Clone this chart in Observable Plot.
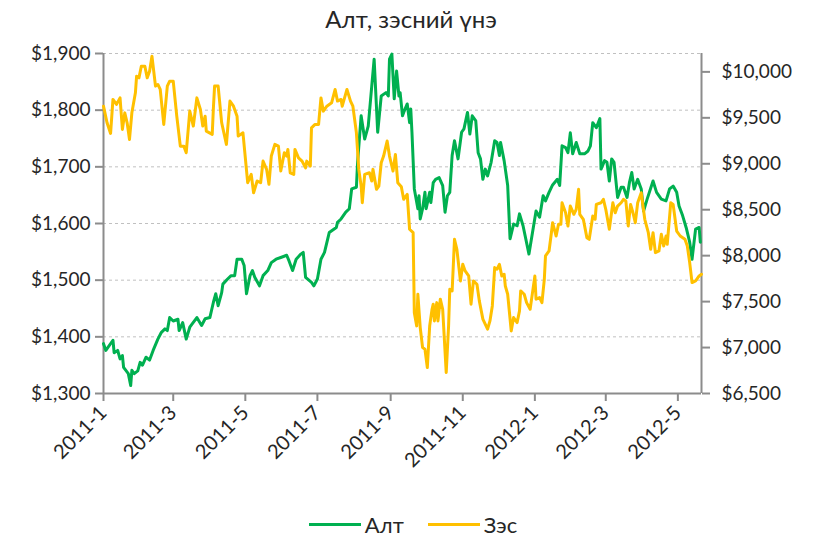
<!DOCTYPE html>
<html>
<head>
<meta charset="utf-8">
<script src="https://cdn.jsdelivr.net/npm/d3@7"></script>
<script src="https://cdn.jsdelivr.net/npm/@observablehq/plot@0.6"></script>
<style>
  body { margin: 0; background: #fff; font-family: Lato, sans-serif; color: #262626; }
  #wrap { position: relative; width: 818px; height: 539px; overflow: hidden; }
  #title { position: absolute; top: 4px; left: 0; width: 818px; text-align: center; font-size: 24px; padding-left: 4px; box-sizing: border-box; }
  #chart { position: absolute; top: 38px; left: 0; }
  #legend { position: absolute; top: 511px; left: 0; width: 818px; display: flex; justify-content: center; align-items: center; font-size: 22px; padding-left: 8px; box-sizing: border-box; }
  .item { display: flex; align-items: center; margin: 0 12px; }
  .sw { width: 52px; height: 3px; margin-right: 4px; }
</style>
</head>
<body>
<div id="wrap">
  <div id="title">Алт, зэсний үнэ</div>
  <div id="chart"></div>
  <div id="legend"></div>
</div>
<script>
// ---- Data ----
const seriesNames = ["Алт", "Зэс"];
const seriesColors = ["#00B050", "#FFC000"];

const goldDates = [
"2011-01-01","2011-01-03","2011-01-09","2011-01-10","2011-01-13","2011-01-15","2011-01-17","2011-01-18","2011-01-22","2011-01-24",
"2011-01-25","2011-01-27","2011-01-30","2011-02-01","2011-02-03","2011-02-06","2011-02-09","2011-02-12","2011-02-16","2011-02-19",
"2011-02-22","2011-02-24","2011-02-26","2011-03-01","2011-03-05","2011-03-06","2011-03-09","2011-03-12","2011-03-15","2011-03-21",
"2011-03-25","2011-03-28","2011-04-01","2011-04-04","2011-04-06","2011-04-08","2011-04-11","2011-04-12","2011-04-16","2011-04-19",
"2011-04-22","2011-04-24","2011-04-28","2011-04-30","2011-05-02","2011-05-05","2011-05-07","2011-05-09","2011-05-13","2011-05-16",
"2011-05-20","2011-05-23","2011-05-27","2011-05-31","2011-06-05","2011-06-07","2011-06-10","2011-06-13","2011-06-17","2011-06-19",
"2011-06-21","2011-06-26","2011-06-28","2011-07-01","2011-07-04","2011-07-07","2011-07-11","2011-07-17","2011-07-18","2011-07-21",
"2011-07-25","2011-07-28","2011-07-30","2011-08-03","2011-08-04","2011-08-07","2011-08-10","2011-08-13","2011-08-16","2011-08-18",
"2011-08-21","2011-08-24","2011-08-28","2011-08-30","2011-08-31","2011-09-02","2011-09-04","2011-09-06","2011-09-08","2011-09-09",
"2011-09-11","2011-09-12","2011-09-15","2011-09-17","2011-09-18","2011-09-19","2011-09-21","2011-09-24","2011-09-25","2011-09-26",
"2011-09-28","2011-09-30","2011-10-01","2011-10-04","2011-10-05","2011-10-07","2011-10-09","2011-10-12","2011-10-15","2011-10-17",
"2011-10-19","2011-10-21","2011-10-23","2011-10-25","2011-10-28","2011-10-31","2011-11-02","2011-11-05","2011-11-07","2011-11-09",
"2011-11-12","2011-11-14","2011-11-16","2011-11-18","2011-11-20","2011-11-22","2011-11-25","2011-11-28","2011-11-30","2011-12-02",
"2011-12-03","2011-12-06","2011-12-09","2011-12-11","2011-12-14","2011-12-17","2011-12-19","2011-12-22","2011-12-27","2011-12-30",
"2012-01-02","2012-01-05","2012-01-08","2012-01-10","2012-01-13","2012-01-16","2012-01-20","2012-01-22","2012-01-24","2012-01-27",
"2012-01-29","2012-01-31","2012-02-02","2012-02-05","2012-02-08","2012-02-12","2012-02-15","2012-02-17","2012-02-19","2012-02-22",
"2012-02-25","2012-02-26","2012-02-29","2012-03-02","2012-03-04","2012-03-06","2012-03-08","2012-03-11","2012-03-14","2012-03-16",
"2012-03-19","2012-03-21","2012-03-23","2012-03-25","2012-03-28","2012-03-31","2012-04-02","2012-04-05","2012-04-10","2012-04-13",
"2012-04-17","2012-04-21","2012-04-24","2012-04-27","2012-04-30","2012-05-02","2012-05-05","2012-05-08","2012-05-11","2012-05-13",
"2012-05-16","2012-05-19","2012-05-20"];
const goldValues = [
1388,1376,1394,1372,1376,1361,1367,1346,1335,1314,
1341,1335,1340,1355,1350,1364,1359,1376,1396,1408,
1414,1411,1434,1428,1431,1411,1425,1396,1417,1434,
1420,1432,1434,1461,1476,1455,1478,1493,1502,1508,
1508,1537,1537,1526,1476,1508,1517,1505,1490,1508,
1517,1531,1537,1540,1544,1534,1517,1537,1546,1549,
1505,1496,1490,1502,1537,1549,1584,1593,1602,1608,
1620,1626,1661,1664,1708,1790,1749,1772,1843,1890,
1761,1825,1831,1825,1890,1899,1820,1869,1825,1831,
1790,1796,1811,1778,1802,1761,1661,1626,1649,1608,
1626,1655,1626,1655,1637,1672,1678,1681,1667,1620,
1649,1655,1720,1746,1714,1761,1767,1796,1758,1790,
1781,1725,1714,1678,1696,1684,1708,1746,1743,1720,
1743,1711,1667,1573,1599,1596,1617,1596,1546,1584,
1622,1611,1649,1640,1655,1668,1678,1667,1737,1734,
1725,1760,1723,1743,1723,1723,1728,1737,1778,1769,
1785,1696,1711,1708,1675,1714,1708,1646,1664,1664,
1646,1672,1690,1661,1678,1661,1622,1643,1675,1655,
1643,1640,1661,1666,1655,1631,1614,1593,1567,1537,
1590,1593,1567];

const copperDates = [
"2011-01-01","2011-01-04","2011-01-07","2011-01-09","2011-01-12","2011-01-15","2011-01-17","2011-01-19","2011-01-21","2011-01-23",
"2011-01-25","2011-01-28","2011-01-29","2011-01-31","2011-02-02","2011-02-05","2011-02-07","2011-02-09","2011-02-11","2011-02-14",
"2011-02-16","2011-02-18","2011-02-21","2011-02-24","2011-02-26","2011-03-01","2011-03-04","2011-03-07","2011-03-10","2011-03-12",
"2011-03-15","2011-03-18","2011-03-21","2011-03-24","2011-03-26","2011-03-28","2011-03-29","2011-04-03","2011-04-04","2011-04-05",
"2011-04-08","2011-04-11","2011-04-15","2011-04-18","2011-04-21","2011-04-24","2011-04-25","2011-04-29","2011-05-03","2011-05-06",
"2011-05-08","2011-05-11","2011-05-14","2011-05-16","2011-05-19","2011-05-21","2011-05-23","2011-05-26","2011-05-29","2011-05-31",
"2011-06-03","2011-06-05","2011-06-06","2011-06-08","2011-06-11","2011-06-12","2011-06-15","2011-06-18","2011-06-21","2011-06-22",
"2011-06-25","2011-06-26","2011-06-29","2011-07-02","2011-07-04","2011-07-06","2011-07-09","2011-07-13","2011-07-16","2011-07-18",
"2011-07-21","2011-07-22","2011-07-26","2011-07-29","2011-07-31","2011-08-03","2011-08-05","2011-08-07","2011-08-08","2011-08-10",
"2011-08-14","2011-08-16","2011-08-17","2011-08-20","2011-08-22","2011-08-24","2011-08-26","2011-08-29","2011-08-31","2011-09-03",
"2011-09-05","2011-09-07","2011-09-10","2011-09-12","2011-09-15","2011-09-17","2011-09-20","2011-09-21","2011-09-23","2011-09-24",
"2011-09-26","2011-09-28","2011-09-30","2011-10-02","2011-10-04","2011-10-06","2011-10-07","2011-10-08","2011-10-10","2011-10-11",
"2011-10-13","2011-10-15","2011-10-18","2011-10-20","2011-10-21","2011-10-23","2011-10-25","2011-10-27","2011-10-30","2011-11-01",
"2011-11-03","2011-11-06","2011-11-08","2011-11-10","2011-11-13","2011-11-15","2011-11-18","2011-11-22","2011-11-24","2011-11-26",
"2011-11-28","2011-11-30","2011-12-02","2011-12-04","2011-12-06","2011-12-07","2011-12-09","2011-12-12","2011-12-14","2011-12-17",
"2011-12-19","2011-12-20","2011-12-23","2011-12-25","2011-12-28","2011-12-30","2012-01-01","2012-01-02","2012-01-05","2012-01-07",
"2012-01-09","2012-01-10","2012-01-13","2012-01-15","2012-01-16","2012-01-19","2012-01-21","2012-01-23","2012-01-24","2012-01-27",
"2012-01-29","2012-01-31","2012-02-03","2012-02-05","2012-02-07","2012-02-08","2012-02-11","2012-02-14","2012-02-16","2012-02-19",
"2012-02-21","2012-02-22","2012-02-26","2012-02-28","2012-03-01","2012-03-04","2012-03-07","2012-03-09","2012-03-11","2012-03-14",
"2012-03-16","2012-03-18","2012-03-20","2012-03-22","2012-03-24","2012-03-26","2012-03-28","2012-03-31","2012-04-03","2012-04-06",
"2012-04-08","2012-04-10","2012-04-12","2012-04-15","2012-04-17","2012-04-19","2012-04-21","2012-04-22","2012-04-25","2012-04-27",
"2012-04-30","2012-05-03","2012-05-07","2012-05-09","2012-05-11","2012-05-13","2012-05-16","2012-05-19","2012-05-21"];
const copperValues = [
9627,9446,9330,9700,9646,9717,9374,9554,9446,9265,
9554,9772,9953,9935,10062,10062,9935,10008,10171,9845,
9863,9809,9428,9845,9899,9899,9518,9192,9192,9120,
9573,9410,9717,9591,9410,9518,9355,9320,9609,9845,
9845,9446,9211,9682,9627,9518,9301,9337,8794,8885,
8685,8812,8794,9029,8939,8776,9084,9211,9192,8921,
9120,9084,9156,8902,8885,9156,9065,9029,8956,9029,
8975,9391,9428,9428,9717,9573,9627,9663,9809,9682,
9700,9627,9809,9682,9627,9337,8939,8758,8576,8885,
8902,8812,8939,8722,8758,9011,9084,9247,9084,8921,
9102,8794,8750,8613,8667,8287,8250,7380,7236,7580,
7217,7000,6982,6782,7236,7417,7472,7290,7489,7290,
7526,7417,6728,7236,7635,7616,8178,8070,7725,7906,
7834,7779,7472,7725,7689,7508,7309,7200,7290,7453,
7870,7852,7906,7779,7798,7670,7580,7181,7326,7272,
7399,7616,7580,7489,7417,7598,7779,7526,7544,7489,
7743,7997,8051,8250,8359,8214,8341,8341,8576,8467,
8323,8540,8450,8504,8722,8450,8396,8196,8178,8431,
8396,8558,8576,8613,8504,8287,8576,8467,8540,8576,
8613,8594,8323,8558,8467,8359,8576,8685,8396,8250,
8070,8250,8033,8051,8232,8106,8214,8124,8576,8558,
8268,8214,8178,8106,7924,7707,7725,7779,7798];

const goldTicks = [1300, 1400, 1500, 1600, 1700, 1800, 1900];
const copperTicks = [6500, 7000, 7500, 8000, 8500, 9000, 9500, 10000];
const copperDomain = [6500, 10200];
const xDomain = ["2011-01-01", "2012-05-21"];
const xTickDates = ["2011-01-01","2011-03-01","2011-05-01","2011-07-01","2011-09-01","2011-11-01","2012-01-01","2012-03-01","2012-05-01"];
const xTickLabels = ["2011-1","2011-3","2011-5","2011-7","2011-9","2011-11","2012-1","2012-3","2012-5"];

// ---- Build ----
const parse = d3.utcParse("%Y-%m-%d");
const gold = goldDates.map((d, i) => ({date: parse(d), value: goldValues[i]}));
const copper = copperDates.map((d, i) => ({date: parse(d), value: copperValues[i]}));
const yDom = [goldTicks[0], goldTicks[goldTicks.length - 1]];
// map copper (secondary axis) onto the primary y scale
const toG = c => yDom[0] + (c - copperDomain[0]) * (yDom[1] - yDom[0]) / (copperDomain[1] - copperDomain[0]);
const fromG = g => copperDomain[0] + (g - yDom[0]) * (copperDomain[1] - copperDomain[0]) / (yDom[1] - yDom[0]);
const money = d3.format(",");
const axisColor = "#8c8c8c";
const xd = xDomain.map(parse);
const xt = xTickDates.map(parse);

const chart = Plot.plot({
  width: 818,
  height: 440,
  marginTop: 15,
  marginBottom: 85,
  marginLeft: 103,
  marginRight: 117,
  style: {fontFamily: "Lato, sans-serif", fontSize: "19px", color: "#262626", background: "#fff"},
  x: {type: "utc", domain: xd},
  y: {domain: yDom},
  marks: [
    Plot.gridY(goldTicks.slice(1), {stroke: "#c0c0c0", strokeOpacity: 1, strokeDasharray: "3,3", strokeWidth: 1}),
    Plot.axisY(goldTicks, {anchor: "left", tickSize: 8, tickPadding: 5, stroke: axisColor, strokeWidth: 2, fontSize: 19, tickFormat: d => "$" + money(d), label: null}),
    Plot.axisY(copperTicks.map(toG), {anchor: "right", tickSize: 8, tickPadding: 12, stroke: axisColor, strokeWidth: 2, fontSize: 19, tickFormat: d => "$" + money(Math.round(fromG(d) / 10) * 10), label: null}),
    Plot.axisX(xt, {anchor: "bottom", tickSize: 8, tickPadding: 8, tickRotate: -45, stroke: axisColor, strokeWidth: 2, fontSize: 20, tickFormat: d => xTickLabels[xt.findIndex(t => +t === +d)], label: null}),
    Plot.ruleX([xd[0]], {stroke: axisColor, strokeWidth: 2}),
    Plot.ruleX([xd[1]], {stroke: axisColor, strokeWidth: 2}),
    Plot.ruleY([yDom[0]], {stroke: axisColor, strokeWidth: 2}),
    Plot.line(gold, {x: "date", y: "value", stroke: seriesColors[0], strokeWidth: 3, strokeLinejoin: "round", strokeLinecap: "round"}),
    Plot.line(copper, {x: "date", y: d => toG(d.value), stroke: seriesColors[1], strokeWidth: 3, strokeLinejoin: "round", strokeLinecap: "round"})
  ]
});
document.getElementById("chart").appendChild(chart);

const legend = document.getElementById("legend");
seriesNames.forEach((name, i) => {
  const it = document.createElement("div");
  it.className = "item";
  const sw = document.createElement("div");
  sw.className = "sw";
  sw.style.background = seriesColors[i];
  const lb = document.createElement("span");
  lb.textContent = name;
  it.appendChild(sw); it.appendChild(lb);
  legend.appendChild(it);
});
</script>
</body>
</html>
